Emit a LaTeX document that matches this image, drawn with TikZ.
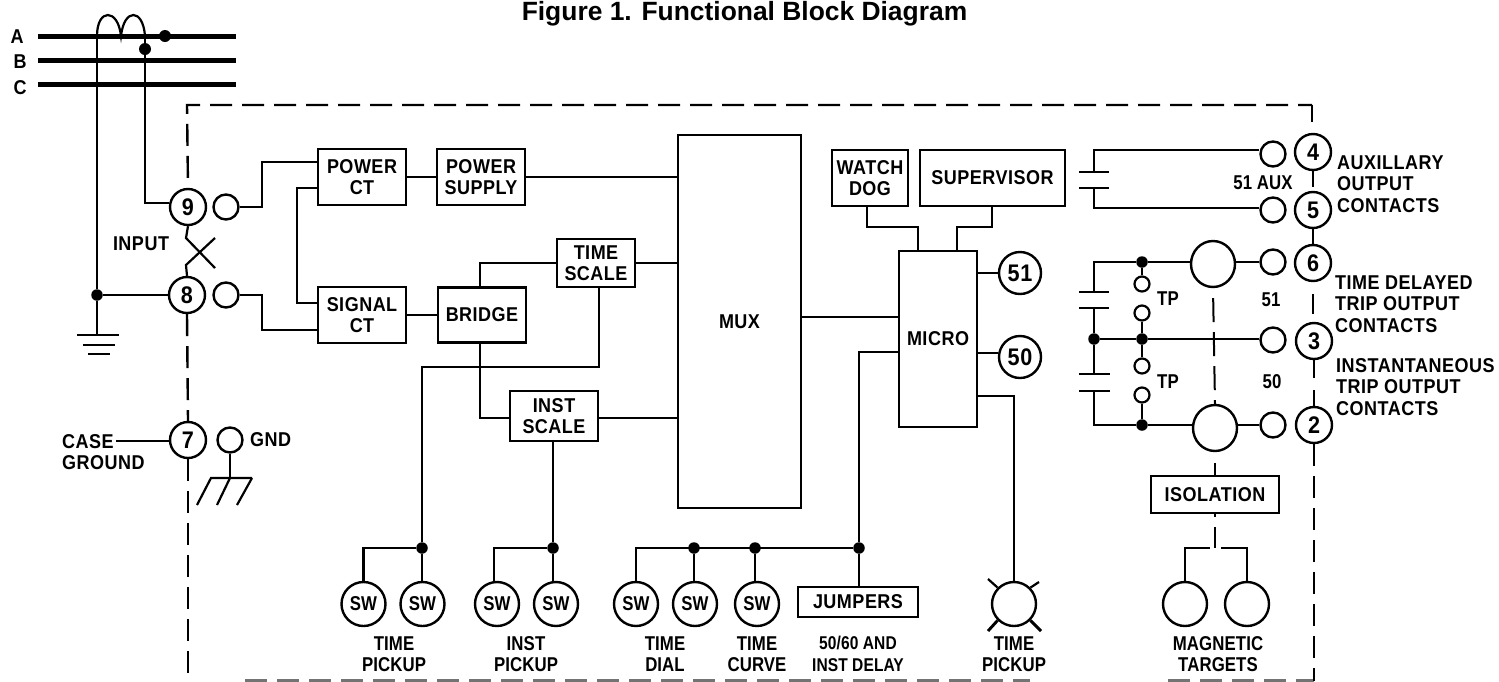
\documentclass[tikz,border=0pt]{standalone}
\usepackage{fontspec}
\setmainfont{Liberation Sans}
\newfontfamily\titlefont{Liberation Sans Bold}
\newfontfamily\lblfont[FakeStretch=0.9,LetterSpace=2.5]{Liberation Sans Bold}
\newfontfamily\botfont[FakeStretch=0.84,LetterSpace=0.5]{Liberation Sans Bold}
\usetikzlibrary{shapes.geometric}
\tikzset{
 wire/.style={line width=2.2pt},
 wirethick/.style={line width=2.9pt},
 phase/.style={line width=5pt},
 dashline/.style={line width=2.4pt,dash pattern=on 22pt off 10pt},
 lbl/.style={font=\lblfont\fontsize{20}{21.5}\selectfont,align=center,inner sep=0pt},
 botl/.style={font=\botfont\fontsize{20}{21.5}\selectfont,align=center,inner sep=0pt},
 blockbox/.style={draw,line width=2.7pt,fill=white,inner sep=0pt,font=\lblfont\fontsize{20}{21.5}\selectfont,align=center},
 term/.style={circle,draw,line width=2.4pt,fill=white,minimum size=36pt,inner sep=0pt,font=\lblfont\fontsize{24}{24}\selectfont},
 smallc/.style={circle,draw,line width=2.4pt,fill=white,minimum size=25pt,inner sep=0pt},
 tpc/.style={circle,draw,line width=2.2pt,fill=white,minimum size=15pt,inner sep=0pt},
 bigc/.style={ellipse,draw,line width=2.4pt,fill=white,minimum width=44pt,minimum height=46pt,inner sep=0pt},
 swc/.style={ellipse,draw,line width=2.4pt,fill=white,minimum width=44pt,minimum height=44pt,inner sep=0pt,font=\botfont\fontsize{20}{20}\selectfont},
 jn/.style={circle,fill=black,minimum size=11.5pt,inner sep=0pt},
}
\begin{document}
\begin{tikzpicture}[x=1pt,y=-1pt]
\useasboundingbox (0,0) rectangle (1499,681);
% title
\node[inner sep=0pt,anchor=base,font=\titlefont\fontsize{26.4}{26.4}\selectfont] (title) at (744.5,20) {Figure 1. Functional Block Diagram};
% phases
\node[lbl] (la) at (17,37) {A};
\node[lbl] (lb) at (20,62) {B};
\node[lbl] (lc) at (20,88) {C};
\coordinate (a1) at (38,36); \coordinate (a2) at (236,36);
\coordinate (b1) at (38,60); \coordinate (b2) at (236,60);
\coordinate (c1) at (38,84); \coordinate (c2) at (236,84);
\draw[phase] (a1) -- (a2);
\draw[phase] (b1) -- (b2);
\draw[phase] (c1) -- (c2);
\node[jn,minimum size=12pt] (ja) at (165,36) {};
\node[jn,minimum size=12pt] (jb) at (145,49) {};
\coordinate (c0) at (97,36);
\coordinate (cm) at (121,36);
\coordinate (ce) at (145,36);
\draw[wire] (c0) .. controls (97,8) and (118,8) .. (cm)
            .. controls (124,8) and (143,8) .. (ce);
% boxes
\node[blockbox,minimum width=88pt,minimum height=56pt] (pct) at (362,177) {POWER\\CT};
\node[blockbox,minimum width=88pt,minimum height=56pt] (psu) at (481,177) {POWER\\SUPPLY};
\node[blockbox,minimum width=88pt,minimum height=56pt] (sct) at (362,315) {SIGNAL\\CT};
\node[blockbox,minimum width=88pt,minimum height=55pt] (brg) at (482,315) {BRIDGE};
\node[blockbox,minimum width=78pt,minimum height=48pt] (tsc) at (596,263) {TIME\\SCALE};
\node[blockbox,minimum width=88pt,minimum height=50pt] (isc) at (554,416) {INST\\SCALE};
\node[blockbox,minimum width=123pt,minimum height=373pt] (mux) at (739.5,321.5) {MUX};
\node[blockbox,minimum width=78pt,minimum height=176pt] (mic) at (938,339) {MICRO};
\node[blockbox,minimum width=76pt,minimum height=56pt] (wdg) at (870,178) {WATCH\\DOG};
\node[blockbox,minimum width=145pt,minimum height=56pt] (sup) at (992.5,178) {SUPERVISOR};
\node[blockbox,minimum width=120pt,minimum height=30pt] (jmp) at (858,602) {JUMPERS};
\node[blockbox,minimum width=128pt,minimum height=37pt] (iso) at (1215,494.5) {ISOLATION};
% input terminals
\node[term] (t9) at (188,207) {9};
\node[term] (t8) at (187,295) {8};
\node[term] (t7) at (188,440) {7};
\node[smallc] (s9) at (226,207) {};
\node[smallc] (s8) at (226,295) {};
\node[smallc] (sg) at (230,440) {};
\node[lbl] (inp) at (141,244) {INPUT};
\node[lbl,align=left,anchor=west] (cg) at (62,452) {CASE\\GROUND};
\node[lbl,align=left,anchor=west] (gnd) at (250,440) {GND};
% neutral and CT wires
\node[jn] (j8) at (97,295) {};
\coordinate (g1) at (97,335);
\draw[wire] (c0) -- (j8);
\draw[wire] (j8) -- (g1);
\draw[wire] (j8) -- (t8);
\draw[wire] (ce) -- (jb);
\draw[wire] (jb) |- (t9.west |- 0,203);
\draw[wire] (77,335) -- (119,335);
\draw[wire] (83,345) -- (115,345);
\draw[wire] (88,354) -- (110,354);
% crossing
\coordinate (x1) at (186,238); \coordinate (x2) at (215,268);
\coordinate (x3) at (215,238); \coordinate (x4) at (186,265);
\draw[wire] (t9.south) -- (x1) -- (x2);
\draw[wire] (x3) -- (x4) -- (t8.north);
% wires to boxes
\draw[wire] (s9.east) -| (262,162) -- (pct.west |- 0,162);
\draw[wirethick] (s8.east) -| (262,330) -- (sct.west |- 0,330);
\draw[wire] (pct.west |- 0,188) -- (297,188) -- (297,303) -- (sct.west |- 0,303);
\draw[wire] (pct.east |- psu.west) -- (psu.west);
\draw[wirethick] (sct.east) -- (brg.west);
\draw[wire] (psu.east) -- (mux.west |- psu.east);
\draw[wire] (brg.north -| 480,0) |- (tsc.west);
\draw[wire] (tsc.east) -- (mux.west |- tsc.east);
\draw[wirethick] (brg.south -| 480,0) |- (isc.west |- 0,418);
\draw[wire] (isc.east |- 0,418) -- (mux.west |- 0,418);
\draw[wire] (mux.east |- 0,317) -- (mic.west |- 0,317);
% micro
\draw[wire] (wdg.south -| 867,0) -- (867,227) -- (918,227) -- (mic.north -| 918,0);
\draw[wire] (sup.south -| 992,0) -- (992,227) -- (957,227) -- (mic.north -| 957,0);
\node[term,minimum size=42pt] (c51) at (1020,273) {51};
\node[term,minimum size=42pt] (c50) at (1020,357) {50};
\draw[wire] (mic.east |- c51) -- (c51);
\draw[wire] (mic.east |- 0,353) -- (c50.west |- 0,353);
% switches
\node[swc] (sw1) at (363.5,604) {SW};
\node[swc] (sw2) at (422.5,604) {SW};
\node[swc] (sw3) at (497,604) {SW};
\node[swc] (sw4) at (556,604) {SW};
\node[swc] (sw5) at (636,604) {SW};
\node[swc] (sw6) at (695,604) {SW};
\node[swc] (sw7) at (757,604) {SW};
\node[jn] (j1) at (422,548) {};
\node[jn] (j2) at (553,548) {};
\node[jn] (j3) at (694,548) {};
\node[jn] (j4) at (755,548) {};
\node[jn] (j5) at (859,548) {};
\draw[wirethick] (sw1.north) |- (j1);
\draw[wire] (j1) -- (sw2.north -| j1);
\draw[wire] (tsc.south -| 599,0) -- (599,367) -- (422,367) -- (j1);
\draw[wirethick] (sw3.north -| 494,0) |- (j2);
\draw[wire] (j2) -- (sw4.north -| j2);
\draw[wire] (isc.south -| j2) -- (j2);
\draw[wirethick] (sw5.north) |- (j5);
\draw[wire] (j3) -- (sw6.north -| j3);
\draw[wirethick] (j4) -- (sw7.north -| j4);
\draw[wirethick] (j5) -- (jmp.north -| j5);
\draw[wirethick] (j5) |- (mic.west |- 0,352);
% time pickup lamp
\node[swc] (lamp) at (1014,604) {};
\draw[wire] (mic.east |- 0,396) -- (1014,396) -- (lamp.north);
\draw[wire] (988,579) -- (lamp.north west);
\draw[wire] (1039,582) -- (lamp.north east);
\draw[wirethick] (988,631) -- (lamp.south west);
\draw[wirethick] (1041,631) -- (lamp.south east);
% bottom labels
\node[botl] (l1) at (394,654) {TIME\\PICKUP};
\node[botl] (l2) at (526,654) {INST\\PICKUP};
\node[botl] (l3) at (665,654) {TIME\\DIAL};
\node[botl] (l4) at (757,654) {TIME\\CURVE};
\node[botl,font=\botfont\fontsize{18.5}{21.5}\selectfont] (l5) at (858,654) {50/60 AND\\INST DELAY};
\node[botl] (l6) at (1014,654) {TIME\\PICKUP};
\node[botl] (l7) at (1218,654) {MAGNETIC\\TARGETS};
% magnetic targets
\node[swc] (m1) at (1185,604) {};
\node[swc] (m2) at (1247,604) {};
\coordinate (mt) at (1215,548);
\draw[wirethick] (m1.north) -- (1185,548) -- (1210,548);
\draw[wirethick] (m2.north) -- (1247,548) -- (1221,548);
\draw[wire] (1215,463) -- (iso.north -| 1215,0);
\draw[wire] (iso.south -| 1215,0) -- (1215,517);
\draw[wire] (1215,527) -- (mt);
% right terminals
\node[term] (t4) at (1313,152) {4};
\node[term] (t5) at (1313,210) {5};
\node[term] (t6) at (1313,263) {6};
\node[term] (t3) at (1314,341) {3};
\node[term] (t2) at (1314,425) {2};
\node[smallc] (s4) at (1273,154) {};
\node[smallc] (s5) at (1273,210) {};
\node[smallc] (s6) at (1273,262) {};
\node[smallc] (s3) at (1273,340) {};
\node[smallc] (s2) at (1273,425) {};
\node[bigc] (r1) at (1213,264) {};
\node[bigc] (r2) at (1215,428) {};
\draw[line width=2pt,dash pattern=on 24pt off 10pt,dash phase=24pt] (r1.south) -- (r2.north);
% aux contact
\draw[wire] (s4.west |- 0,150) -- (1094,150) -- (1094,172);
\draw[wire] (s5.west |- 0,208) -- (1094,208) -- (1094,188);
\draw[wire] (1079,172) -- (1109,172);
\draw[wire] (1079,188) -- (1109,188);
\node[lbl,font=\botfont\fontsize{20}{21.5}\selectfont] (aux) at (1263,183) {51 AUX};
% trip contacts
\node[jn] (jr1) at (1142,262) {};
\node[jn] (jr2) at (1142,339) {};
\node[jn] (jr3) at (1094,339) {};
\node[jn] (jr4) at (1142,425) {};
\node[tpc] (tp1) at (1142,284) {};
\node[tpc] (tp2) at (1142,313) {};
\node[tpc] (tp3) at (1142,366) {};
\node[tpc] (tp4) at (1142,395) {};
\draw[wire] (r1.west |- jr1) -- (jr1) -- (1094,262) -- (1094,292);
\draw[wire] (r1.east |- s6) -- (s6);
\draw[wire] (jr1) -- (tp1);
\draw[wire] (tp2) -- (jr2);
\draw[wire] (jr2) -- (tp3);
\draw[wirethick] (tp4) -- (jr4);
\draw[wirethick] (jr3) -- (jr2) -- (s3.west |- jr2);
\draw[wirethick] (1094,308) -- (jr3);
\draw[wire] (jr3) -- (1094,374);
\draw[wirethick] (1094,391) -- (1094,425) -- (jr4) -- (r2.west |- jr4);
\draw[wire] (r2.east |- s2) -- (s2);
\draw[wire] (1079,292) -- (1109,292);
\draw[wirethick] (1079,308) -- (1109,308);
\draw[wire] (1079,374) -- (1110,374);
\draw[wire] (1079,391) -- (1110,391);
\node[botl] (tpa) at (1168,299) {TP};
\node[botl] (tpb) at (1168,382) {TP};
\node[botl] (n51) at (1271,300) {51};
\node[botl] (n50) at (1272,382) {50};
\node[lbl,align=left,anchor=west] (ra) at (1337,184) {AUXILLARY\\OUTPUT\\CONTACTS};
\node[lbl,align=left,anchor=west] (rb) at (1335,304) {TIME DELAYED\\TRIP OUTPUT\\CONTACTS};
\node[lbl,align=left,anchor=west] (rc) at (1336,387) {INSTANTANEOUS\\TRIP OUTPUT\\CONTACTS};
% case ground
\coordinate (cgl) at (116,441);
\draw[wire] (cgl) -- (t7.west |- cgl);
\coordinate (hb) at (230,478);
\draw[wire] (sg.south) -- (hb);
\draw[wire] (252,478) -- (211,478) -- (197,505);
\draw[wire] (hb) -- (217,505);
\draw[wire] (252,478) -- (237,505);
% case outline
\coordinate (tl) at (187,105); \coordinate (tr) at (1312,105);
\coordinate (trs) at (1312,122);
\coordinate (bl) at (188,681); \coordinate (bs1) at (245,680.5);
\coordinate (bs2) at (1030,680.5); \coordinate (bs3) at (1168,680.5); \coordinate (br) at (1314,680.5);
\draw[dashline,dash phase=22pt] (t9.north) -- (tl) -- (tr);
\draw[wirethick] (tr) -- (trs);
\draw[dashline] (t8.south) -- (t7.north);
\draw[dashline] (t7.south) -- (bl);
\draw[dashline,black!55] (bs1) -- (bs2);
\draw[dashline,black!55] (bs3) -- (br);
\draw[dashline] (t2.south) -- (br);
\draw[wire] (t4.south) -- (1313,187);
\draw[wirethick] (t5.south) -- (t6.north);
\draw[wire] (1313,294) -- (1313,314);
\draw[wire] (t3.south) -- (1314,378);
\draw[wire] (1314,390) -- (t2.north);
\end{tikzpicture}
\end{document}
